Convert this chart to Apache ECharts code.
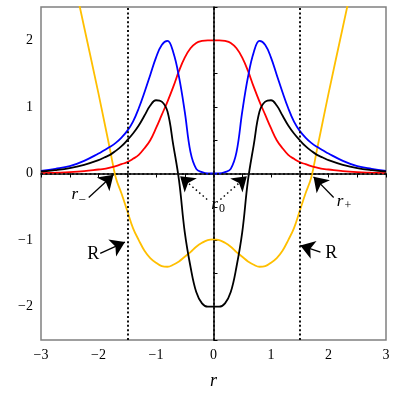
<!DOCTYPE html>
<html>
<head>
<meta charset="utf-8">
<script src="https://cdn.jsdelivr.net/npm/echarts@6/dist/echarts.min.js"></script>
<style>
html,body{margin:0;padding:0;background:#fff;}
#main{width:395px;height:395px;}
</style>
</head>
<body>
<div id="main"></div>
<script>
// r 取值
var rVals = [-3,-2.75,-2.5,-2.25,-2,-1.9,-1.8,-1.7,-1.6,-1.5,-1.4,-1.3,-1.2,-1.1,-1,-0.9,-0.8,-0.7,-0.6,-0.5,-0.4,-0.3,-0.2,-0.1,
    0,
    0.1,0.2,0.3,0.4,0.5,0.6,0.7,0.8,0.9,1,1.1,1.2,1.3,1.4,1.5,1.6,1.7,1.8,1.9,2,2.25,2.5,2.75,3];
var blueVals = [0.04,0.07,0.11,0.19,0.3,0.35,0.4,0.46,0.54,0.64,0.78,0.98,1.22,1.48,1.74,1.93,1.99,1.82,1.45,0.93,0.32,0.07,0.02,0.0,
    0.0,
    0.0,0.02,0.07,0.32,0.93,1.45,1.82,1.99,1.93,1.74,1.48,1.22,0.98,0.78,0.64,0.54,0.46,0.4,0.35,0.3,0.19,0.11,0.07,0.04];
var redVals = [0.005,0.012,0.02,0.035,0.06,0.07,0.09,0.11,0.14,0.17,0.22,0.28,0.38,0.5,0.68,0.88,1.08,1.3,1.54,1.74,1.88,1.96,1.99,2.0,
    2.0,
    2.0,1.99,1.96,1.88,1.74,1.54,1.3,1.08,0.88,0.68,0.5,0.38,0.28,0.22,0.17,0.14,0.11,0.09,0.07,0.06,0.035,0.02,0.012,0.005];
var blackVals = [0.03,0.05,0.08,0.13,0.2,0.24,0.28,0.34,0.41,0.5,0.6,0.72,0.87,1.02,1.1,1.08,0.93,0.43,-0.1,-0.88,-1.4,-1.78,-1.95,-2.0,
    -2.0,
    -2.0,-1.95,-1.78,-1.4,-0.88,-0.1,0.43,0.93,1.08,1.1,1.02,0.87,0.72,0.6,0.5,0.41,0.34,0.28,0.24,0.2,0.13,0.08,0.05,0.03];
var goldVals = [null,null,3.2,2.2,1.2,0.78,0.36,-0.06,-0.3,-0.56,-0.82,-1.0,-1.16,-1.27,-1.34,-1.39,-1.4,-1.37,-1.32,-1.25,-1.18,-1.1,-1.04,-1.0,
    -0.99,
    -1.0,-1.04,-1.1,-1.18,-1.25,-1.32,-1.37,-1.4,-1.39,-1.34,-1.27,-1.16,-1.0,-0.82,-0.56,-0.3,-0.06,0.36,0.78,1.2,2.2,3.2,null,null];

// 虚线位置
var dotX = [-1.5, 0, 1.5];
var dotY = [0];

function pairs(ys){
    var arr = [];
    for (var i = 0; i < rVals.length; i++) {
        arr.push([rVals[i], ys[i]]);
    }
    return arr;
}

function tickFmt(v){
    if (Math.abs(v - Math.round(v)) > 1e-6) return '';
    var n = Math.round(v);
    return n < 0 ? '\u2212' + (-n) : '' + n;
}

var serif = 'Liberation Serif';
var richLbl = {
    i: {fontFamily: serif, fontStyle: 'italic', fontSize: 17, color: '#000'},
    s: {fontFamily: serif, fontSize: 12, color: '#000', verticalAlign: 'bottom', padding: [8, 0, 0, 1]},
    R: {fontFamily: serif, fontSize: 18, color: '#000'}
};

function lineSeries(name, ys, color){
    return {
        name: name,
        type: 'line',
        data: pairs(ys),
        smooth: 0.4,
        showSymbol: false,
        symbol: 'none',
        lineStyle: {color: color, width: 1.8},
        z: 3
    };
}

var markLines = [];
dotX.forEach(function(x){ markLines.push({xAxis: x}); });
dotY.forEach(function(y){ markLines.push({yAxis: y}); });

var arrowSolid = {color: '#000', width: 1.3, type: 'solid'};
var arrowDot = {color: '#000', width: 1.5, type: [1.5, 3]};

var chart = echarts.init(document.getElementById('main'));
var option = {
    animation: false,
    grid: {
        left: 41, right: 9, top: 7, bottom: 51,
        show: true, borderColor: '#808080', borderWidth: 1.5
    },
    xAxis: {
        type: 'value',
        min: -3, max: 3, interval: 0.5,
        name: 'r',
        nameLocation: 'middle',
        nameGap: 32,
        nameTextStyle: {fontFamily: serif, fontStyle: 'italic', fontSize: 18, color: '#000'},
        axisLine: {show: true, lineStyle: {color: '#000', width: 1.5}},
        axisTick: {show: true, inside: false, length: 4, lineStyle: {color: '#000'}},
        axisLabel: {formatter: tickFmt, fontFamily: serif, fontSize: 14, color: '#000', margin: 8},
        splitLine: {show: false}
    },
    yAxis: {
        type: 'value',
        min: -2.5, max: 2.5, interval: 0.5,
        axisLine: {show: true, lineStyle: {color: '#000', width: 1.5}},
        axisTick: {show: true, inside: true, length: 4, lineStyle: {color: '#000'}},
        axisLabel: {formatter: tickFmt, fontFamily: serif, fontSize: 14, color: '#000', margin: 8},
        splitLine: {show: false}
    },
    series: [
        lineSeries('gold', goldVals, '#ffbf00'),
        lineSeries('red', redVals, '#ff0000'),
        lineSeries('blue', blueVals, '#0000ff'),
        lineSeries('black', blackVals, '#000000'),
        {
            name: 'marks',
            type: 'line',
            data: [],
            markLine: {
                silent: true,
                symbol: 'none',
                label: {show: false},
                lineStyle: {color: '#111', width: 2, type: [2, 2.4]},
                data: markLines
            },
            markPoint: {
                silent: true,
                symbol: 'circle',
                symbolSize: 0,
                label: {show: true, position: 'inside', rich: richLbl},
                data: [
                    {coord: [-2.35, -0.32], value: 0, label: {formatter: '{i|r}{s|\u2013}'}},
                    {coord: [2.27, -0.42], value: 0, label: {formatter: '{i|r}{s|+}'}},
                    {coord: [0.08, -0.47], value: 0, label: {formatter: '{i|r}{s|0}'}},
                    {coord: [-2.09, -1.22], value: 0, label: {formatter: '{R|R}'}},
                    {coord: [2.05, -1.2], value: 0, label: {formatter: '{R|R}'}}
                ]
            }
        },
        {
            name: 'arrows',
            type: 'line',
            data: [],
            markLine: {
                silent: true,
                symbol: ['none', 'arrow'],
                symbolSize: 14,
                label: {show: false},
                data: [
                    [{coord: [-2.17, -0.36], lineStyle: arrowSolid}, {coord: [-1.74, -0.02]}],
                    [{coord: [2.09, -0.36], lineStyle: arrowSolid}, {coord: [1.74, -0.05]}],
                    [{coord: [-1.97, -1.2], lineStyle: arrowSolid}, {coord: [-1.54, -1.03]}],
                    [{coord: [1.86, -1.18], lineStyle: arrowSolid}, {coord: [1.51, -1.08]}],
                    [{coord: [-0.11, -0.39], lineStyle: arrowDot}, {coord: [-0.58, -0.04]}],
                    [{coord: [0.12, -0.39], lineStyle: arrowDot}, {coord: [0.58, -0.04]}]
                ]
            }
        }
    ]
};
chart.setOption(option);
</script>
</body>
</html>
